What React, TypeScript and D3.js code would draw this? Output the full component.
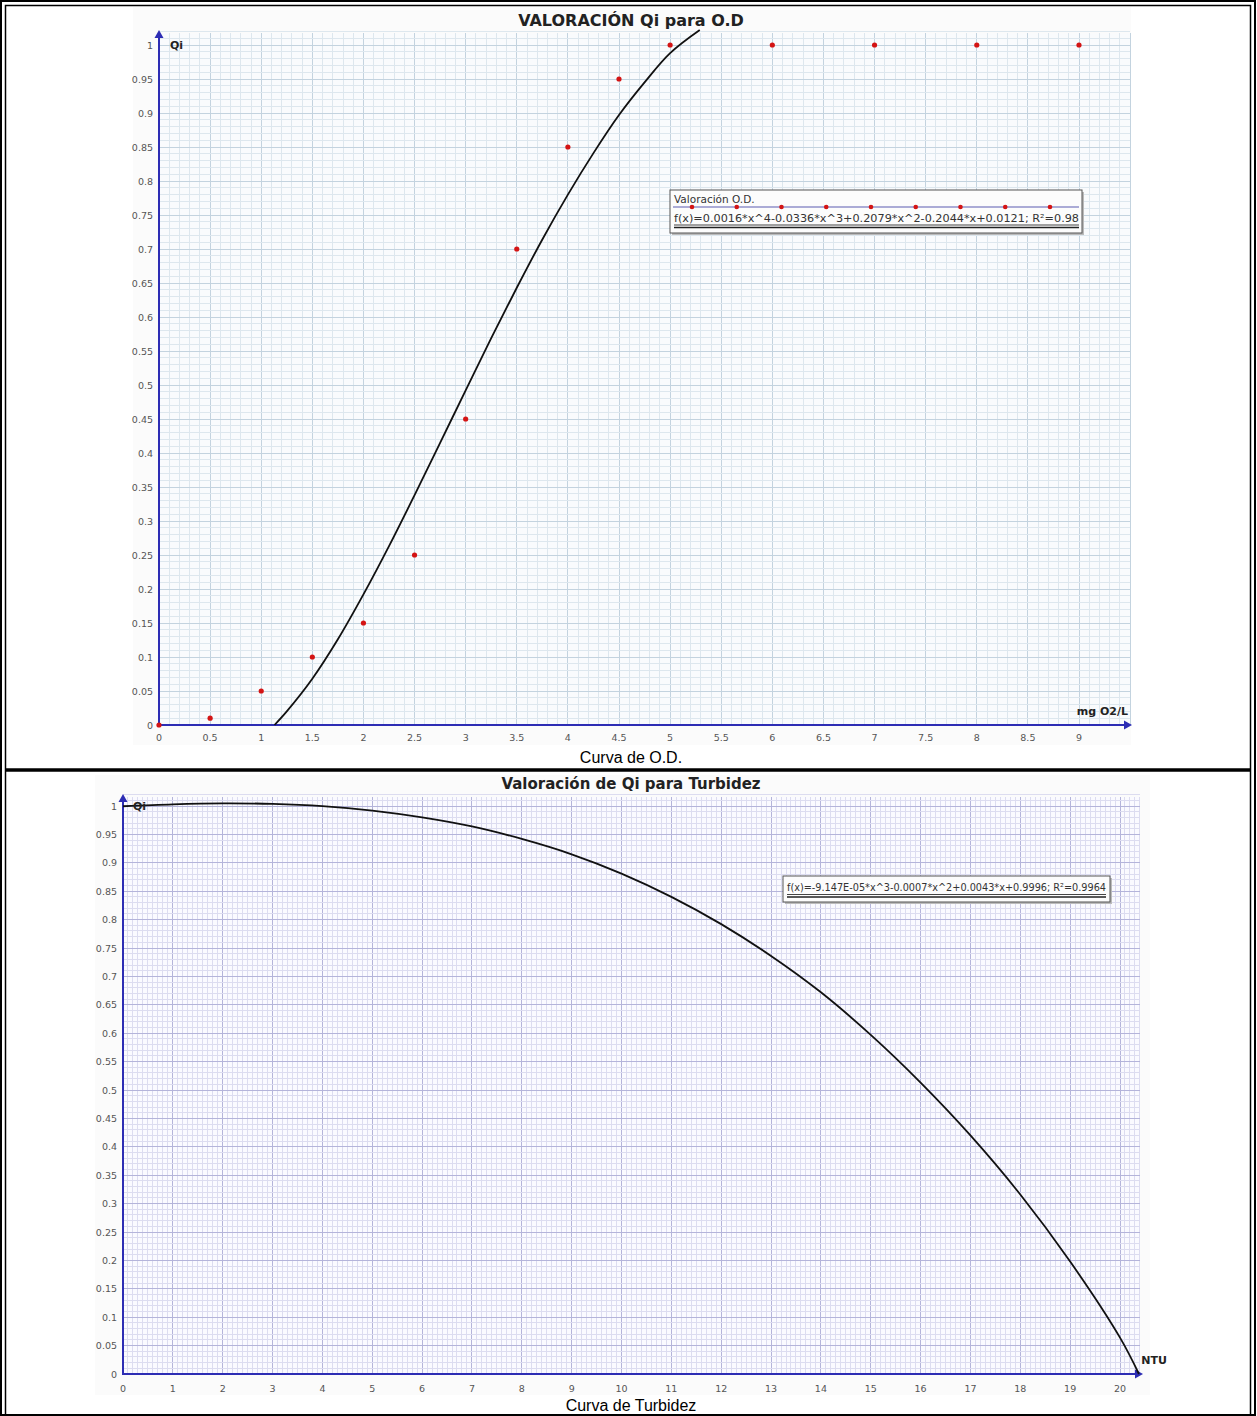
import React from "react";
import * as d3 from "d3";

// ---------- DATA ----------
const odTitle = "VALORACIÓN Qi para O.D";
const odCaption = "Curva de O.D.";
const odLegendName = "Valoración O.D.";
const odFormula = "f(x)=0.0016*x^4-0.0336*x^3+0.2079*x^2-0.2044*x+0.0121; R²=0.98";
const odPointsX = [0, 0.5, 1, 1.5, 2, 2.5, 3, 3.5, 4, 4.5, 5, 6, 7, 8, 9];
const odPointsY = [0, 0.01, 0.05, 0.1, 0.15, 0.25, 0.45, 0.7, 0.85, 0.95, 1, 1, 1, 1, 1];
const odCurveX = [1.13, 1.25, 1.5, 1.75, 2, 2.25, 2.5, 2.75, 3, 3.25, 3.5, 3.75, 4, 4.25, 4.5, 4.75, 5, 5.29];
const odCurveY = [0, 0.02, 0.068, 0.126, 0.192, 0.263, 0.338, 0.415, 0.492, 0.569, 0.643, 0.714, 0.78, 0.841, 0.897, 0.945, 0.988, 1.022];
const odXTicks = [0, 0.5, 1, 1.5, 2, 2.5, 3, 3.5, 4, 4.5, 5, 5.5, 6, 6.5, 7, 7.5, 8, 8.5, 9];
const odYTicks = [0, 0.05, 0.1, 0.15, 0.2, 0.25, 0.3, 0.35, 0.4, 0.45, 0.5, 0.55, 0.6, 0.65, 0.7, 0.75, 0.8, 0.85, 0.9, 0.95, 1];

const turbTitle = "Valoración de Qi para Turbidez";
const turbCaption = "Curva de Turbidez";
const turbFormula = "f(x)=-9.147E-05*x^3-0.0007*x^2+0.0043*x+0.9996; R²=0.9964";
const turbCurveX = [0, 1, 2, 3, 4, 5, 6, 7, 8, 9, 10, 11, 12, 13, 14, 15, 16, 17, 18, 19, 20, 20.38];
const turbCurveY = [0.9996, 1.003, 1.0047, 1.0037, 0.9998, 0.992, 0.98, 0.964, 0.942, 0.915, 0.881, 0.84, 0.792, 0.736, 0.672, 0.597, 0.513, 0.42, 0.316, 0.198, 0.064, 0];
const turbXTicks = d3.range(0, 21);
const turbYTicks = odYTicks;

// ---------- STYLE ----------
const AXIS = "#2d2db4";
const TICKC = "#555";
const FONT = "'DejaVu Sans', Verdana, sans-serif";

function fmt(v: number) {
  return String(+v.toFixed(2));
}

function Arrow({ x, y, dir }: { x: number; y: number; dir: "up" | "right" }) {
  const p = dir === "up"
    ? `M${x},${y} L${x - 4.5},${y + 8} L${x + 4.5},${y + 8} Z`
    : `M${x},${y} L${x - 8},${y - 4.5} L${x - 8},${y + 4.5} Z`;
  return <path d={p} fill={AXIS} />;
}

function Grid({ x, y, xMax, yMax, xMinorStep, xMajorEvery, minor, major }: any) {
  const nx = Math.round(xMax / xMinorStep);
  const ny = Math.round(yMax / 0.01);
  const lines: any[] = [];
  for (let i = 1; i <= nx; i++) {
    const v = i * xMinorStep;
    const isMajor = i % xMajorEvery === 0;
    lines.push(<line key={"v" + i} x1={x(v)} x2={x(v)} y1={y(0)} y2={y(yMax)} stroke={isMajor ? major : minor} strokeWidth={1} />);
  }
  for (let j = 1; j <= ny; j++) {
    const v = j * 0.01;
    const isMajor = j % 5 === 0;
    lines.push(<line key={"h" + j} x1={x(0)} x2={x(xMax)} y1={y(v)} y2={y(v)} stroke={isMajor ? major : minor} strokeWidth={1} />);
  }
  return <g shapeRendering="crispEdges">{lines}</g>;
}

function ODChart() {
  const x = d3.scaleLinear().domain([0, 9]).range([159, 1079]);
  const y = d3.scaleLinear().domain([0, 1]).range([725, 45]);
  const xMax = 9.5;
  const yMax = 1.017;
  const line = d3.line<number>().x((_, i) => x(odCurveX[i])).y((_, i) => y(odCurveY[i])).curve(d3.curveCatmullRom);
  const lx = 670, ly = 190, lw = 412, lh = 43;
  const dots = d3.range(9).map((i) => 692 + i * 44.75);
  return (
    <g>
      <rect x={133} y={7} width={998} height={738} fill="#fbfbfb" />
      <rect x={x(0)} y={y(yMax)} width={x(xMax) - x(0)} height={y(0) - y(yMax)} fill="#f9fbfd" />
      <Grid x={x} y={y} xMax={xMax} yMax={yMax} xMinorStep={0.1} xMajorEvery={5} minor="#dde7ee" major="#c3d3df" />
      <text x={631} y={26} textAnchor="middle" fontFamily={FONT} fontWeight="bold" fontSize={16} fill="#222">{odTitle}</text>
      {/* axes */}
      <line x1={x(0)} x2={x(0)} y1={y(0) + 1} y2={34} stroke={AXIS} strokeWidth={2} />
      <Arrow x={x(0)} y={30} dir="up" />
      <line x1={x(0)} x2={1128} y1={y(0)} y2={y(0)} stroke={AXIS} strokeWidth={2} />
      <Arrow x={1132} y={y(0)} dir="right" />
      {odXTicks.map((t) => (
        <text key={"xt" + t} x={x(t)} y={741} textAnchor="middle" fontFamily={FONT} fontSize={9.5} fill={TICKC}>{fmt(t)}</text>
      ))}
      {odYTicks.map((t) => (
        <text key={"yt" + t} x={153} y={y(t) + 3.5} textAnchor="end" fontFamily={FONT} fontSize={9.5} fill={TICKC}>{fmt(t)}</text>
      ))}
      <text x={170} y={49} fontFamily={FONT} fontWeight="bold" fontSize={11} fill="#222">Qi</text>
      <text x={1128} y={715} textAnchor="end" fontFamily={FONT} fontWeight="bold" fontSize={11} fill="#222">mg O2/L</text>
      {/* curve */}
      <path d={line(odCurveX) || ""} fill="none" stroke="#111" strokeWidth={1.8} />
      {/* points */}
      {odPointsX.map((v, i) => (
        <circle key={"p" + i} cx={x(v)} cy={y(odPointsY[i])} r={2.6} fill="#d41414" />
      ))}
      {/* legend */}
      <rect x={lx + 2} y={ly + 2} width={lw} height={lh} fill="#bbb" />
      <rect x={lx} y={ly} width={lw} height={lh} fill="#fcfcfc" stroke="#555" strokeWidth={1} />
      <text x={674} y={203} fontFamily={FONT} fontSize={10.5} fill="#333">{odLegendName}</text>
      <line x1={673} x2={1079} y1={207} y2={207} stroke="#5a5ab0" strokeWidth={1.2} />
      {dots.map((d, i) => (
        <circle key={"ld" + i} cx={d} cy={207} r={2.3} fill="#d41414" />
      ))}
      <text x={674} y={222} fontFamily={FONT} fontSize={10.5} fill="#333" textLength={405} lengthAdjust="spacingAndGlyphs">{odFormula}</text>
      <line x1={674} x2={1079} y1={225} y2={225} stroke="#444" strokeWidth={1} />
      <line x1={674} x2={1079} y1={227.5} y2={227.5} stroke="#222" strokeWidth={1.5} />
      <text x={631} y={763} textAnchor="middle" fontFamily="'Liberation Sans', Arial, sans-serif" fontSize={16} fill="#000">{odCaption}</text>
    </g>
  );
}

function TurbChart() {
  const x = d3.scaleLinear().domain([0, 20]).range([123, 1120]);
  const y = d3.scaleLinear().domain([0, 1]).range([1374, 806]);
  const xMax = 20.4;
  const yMax = 1.016;
  const line = d3.line<number>().x((_, i) => x(turbCurveX[i])).y((_, i) => y(turbCurveY[i])).curve(d3.curveCatmullRom);
  return (
    <g>
      <rect x={95} y={775} width={1055} height={620} fill="#fbfbfb" />
      <rect x={x(0)} y={y(yMax)} width={x(xMax) - x(0)} height={y(0) - y(yMax)} fill="#fafaff" />
      <Grid x={x} y={y} xMax={xMax} yMax={yMax} xMinorStep={0.1} xMajorEvery={10} minor="#dcdcf0" major="#b4b4da" />
      <text x={631} y={789} textAnchor="middle" fontFamily={FONT} fontWeight="bold" fontSize={15} fill="#222">{turbTitle}</text>
      <line x1={x(0)} x2={x(0)} y1={y(0) + 1} y2={798} stroke={AXIS} strokeWidth={2} />
      <Arrow x={x(0)} y={794} dir="up" />
      <line x1={x(0)} x2={1139} y1={y(0)} y2={y(0)} stroke={AXIS} strokeWidth={2} />
      <Arrow x={1143} y={y(0)} dir="right" />
      {turbXTicks.map((t) => (
        <text key={"xt" + t} x={x(t)} y={1392} textAnchor="middle" fontFamily={FONT} fontSize={9.5} fill={TICKC}>{fmt(t)}</text>
      ))}
      {turbYTicks.map((t) => (
        <text key={"yt" + t} x={117} y={y(t) + 3.5} textAnchor="end" fontFamily={FONT} fontSize={9.5} fill={TICKC}>{fmt(t)}</text>
      ))}
      <path d={line(turbCurveX) || ""} fill="none" stroke="#111" strokeWidth={1.8} />
      <text x={133} y={810} fontFamily={FONT} fontWeight="bold" fontSize={11} fill="#222">Qi</text>
      <text x={1167} y={1364} textAnchor="end" fontFamily={FONT} fontWeight="bold" fontSize={11} fill="#222">NTU</text>
      {/* legend */}
      <rect x={785} y={878} width={327} height={26} fill="#bbb" />
      <rect x={783} y={876} width={327} height={26} fill="#fcfcfc" stroke="#555" strokeWidth={1} />
      <text x={787} y={891} fontFamily={FONT} fontSize={10.5} fill="#333" textLength={319} lengthAdjust="spacingAndGlyphs">{turbFormula}</text>
      <line x1={787} x2={1106} y1={894.5} y2={894.5} stroke="#444" strokeWidth={1} />
      <line x1={787} x2={1106} y1={897} y2={897} stroke="#222" strokeWidth={1.5} />
      <text x={631} y={1411} textAnchor="middle" fontFamily="'Liberation Sans', Arial, sans-serif" fontSize={16} fill="#000">{turbCaption}</text>
    </g>
  );
}

export default function App() {
  return (
    <svg width={1257} height={1416} style={{ position: "absolute", left: 0, top: 0, background: "#fff" }}>
      <rect x={0} y={0} width={1257} height={1416} fill="#fff" />
      <ODChart />
      <TurbChart />
      {/* table borders */}
      <rect x={1} y={1} width={1254} height={1414} fill="none" stroke="#000" strokeWidth={2} />
      <rect x={5.5} y={5.5} width={1245} height={1420} fill="none" stroke="#000" strokeWidth={1.5} />
      <line x1={5} x2={1251} y1={770} y2={770} stroke="#000" strokeWidth={3.5} />
    </svg>
  );
}
